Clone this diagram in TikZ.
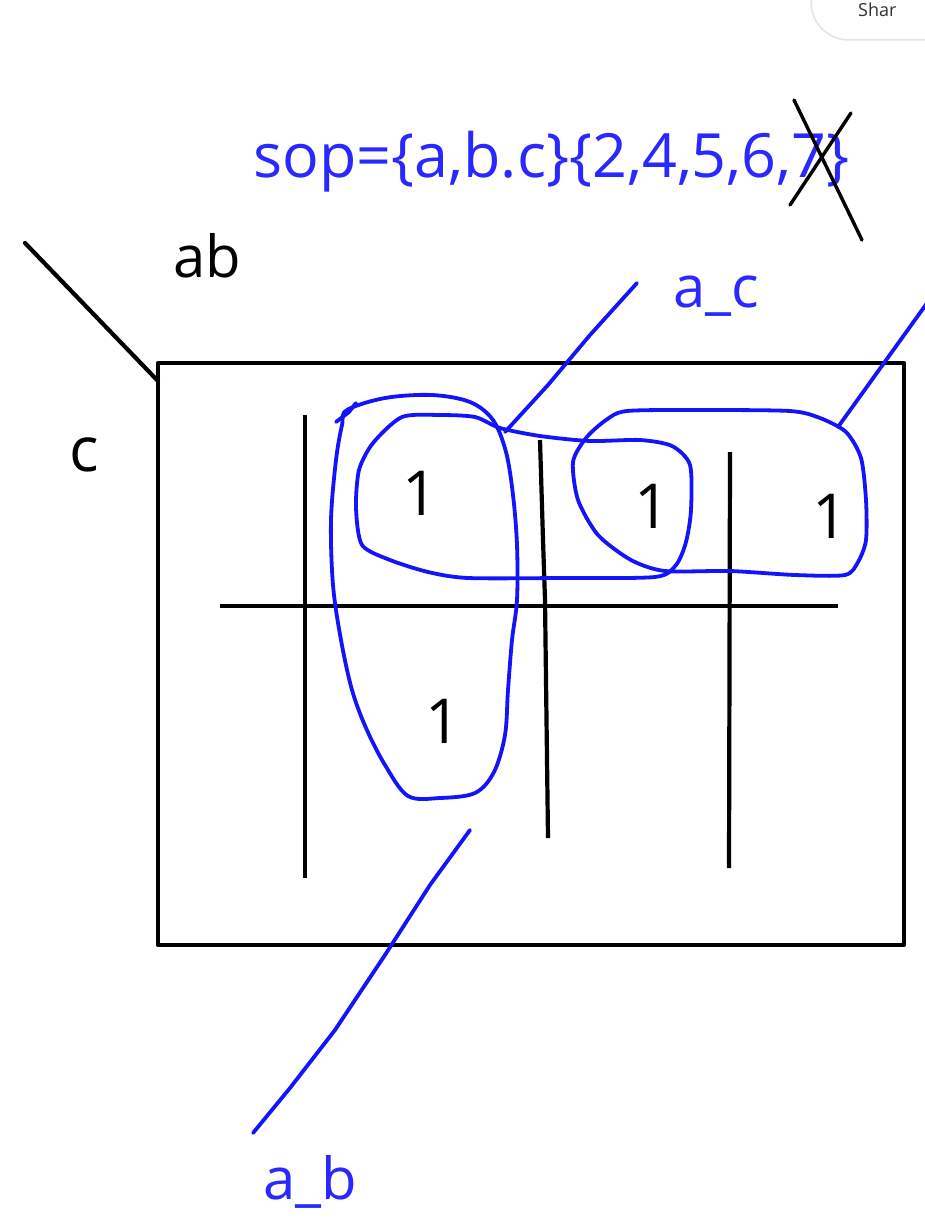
\documentclass[tikz,border=0pt]{standalone}
\usepackage{fontspec}
\setmainfont{Open Sans}
\definecolor{inkblue}{RGB}{20,20,250}
\definecolor{textblue}{RGB}{40,40,255}
\definecolor{btngray}{RGB}{228,228,228}
\tikzset{
  ink/.style={line width=4.2pt, line cap=round, line join=round},
  blueink/.style={ink, line width=3.8pt, draw=inkblue},
  loop/.style={blueink, smooth cycle, tension=0.55},
  lbl/.style={inner sep=0pt, anchor=base west, font=\fontsize{58}{64}\selectfont},
  one/.style={inner sep=0pt, anchor=base, font=\fontsize{62}{68}\selectfont},
}
\begin{document}
\begin{tikzpicture}[x=1pt,y=-1pt]
\useasboundingbox (0,0) rectangle (925,1223);
\clip (0,0) rectangle (925,1223);
\fill[white] (0,0) rectangle (925,1223);
% share button (cut off at the top edge)
\draw[btngray, line width=1.5pt, rounded corners=38pt] (811,-60) rectangle (990,40);
\node[inner sep=0pt, anchor=base west, text=black!80, font=\fontsize{18}{22}\selectfont] (shar) at (858,17) {Shar};
% title
\node[lbl, text=textblue, font=\fontsize{61}{68}\selectfont] (title) at (253,177) {sop=\{a,b.c\}\{2,4,5,6,7\}};
\coordinate (x1a) at (790,205); \coordinate (x1b) at (851,113);
\coordinate (x2a) at (794,100); \coordinate (x2b) at (862,240);
\draw[ink, line width=3.4pt] (x1a) -- (x1b);
\draw[ink, line width=3.4pt] (x2a) -- (x2b);
% labels
\node[lbl] (ab) at (173,277) {ab};
\node[lbl, font=\fontsize{62}{68}\selectfont] (c) at (69,471) {c};
\node[lbl, text=textblue] (ac) at (673,307) {a\_c};
\node[lbl, text=textblue] (abl) at (263,1199) {a\_b};
% K-map frame
\coordinate (diagA) at (25,243);
\coordinate (frameTL) at (158,363);
\coordinate (frameBR) at (904,945);
\coordinate (diagB) at (158,381);
\draw[ink, line cap=butt] (frameTL) rectangle (frameBR);
\draw[ink] (diagA) -- (diagB);
% grid
\coordinate (v1t) at (305,415); \coordinate (v1b) at (305,878);
\coordinate (v2t) at (540,440); \coordinate (v2m) at (543,540); \coordinate (v2b) at (548,838);
\coordinate (v3t) at (730,452); \coordinate (v3b) at (729,868);
\coordinate (hl) at (220,606); \coordinate (hr) at (838,606);
\draw[ink, line cap=butt] (v1t) -- (v1b);
\draw[ink, line cap=butt] (v2t) -- (v2m) -- (545,600) -- (v2b);
\draw[ink, line cap=butt] (v3t) -- (v3b);
\draw[ink, line cap=butt] (hl) -- (hr);
% ones
\node[one] (m1) at (420,515) {1};
\node[one] (m2) at (652,528) {1};
\node[one] (m3) at (830,538) {1};
\node[one] (m4) at (443,743) {1};
% loop a_b (vertical)
\draw[loop] plot coordinates {(347,410) (385,398) (432,395) (470,402) (493,420) (506,452) (513,495) (517,545) (517,600) (512,640) (508,690) (505,735) (494,772) (475,793) (440,798) (408,796) (385,765) (366,728) (352,690) (341,640) (333,585) (331,520) (336,460) (342,425)};
\draw[blueink] (336,422) -- (349,412) -- (356,403);
% loop left-middle (horizontal)
\draw[loop, tension=0.45] plot coordinates {(402,417) (440,415) (475,417) (500,428) (540,436) (590,441) (640,440) (672,446) (690,465) (691,510) (686,542) (676,565) (655,577) (560,578) (468,578) (428,572) (390,560) (362,545) (356,508) (359,470) (373,443)};
% loop right (middle + right ones)
\draw[loop, tension=0.45] plot coordinates {(627,411) (700,410) (790,411) (820,418) (846,432) (861,458) (866,500) (866,540) (858,562) (845,575) (795,575) (730,571) (665,571) (631,560) (598,535) (578,500) (573,462) (586,438) (606,420)};
% leader lines
\coordinate (acS) at (505,432); \coordinate (acE) at (637,283);
\coordinate (rS) at (838,427); \coordinate (rE) at (935,292);
\coordinate (abS) at (470,830); \coordinate (abE) at (253,1133);
\draw[blueink] (acS) -- (548,385) -- (590,335) -- (acE);
\draw[blueink] (rS) -- (rE);
\draw[blueink] (abS) -- (430,885) -- (385,955) -- (335,1030) -- (290,1088) -- (abE);
\end{tikzpicture}
\end{document}
